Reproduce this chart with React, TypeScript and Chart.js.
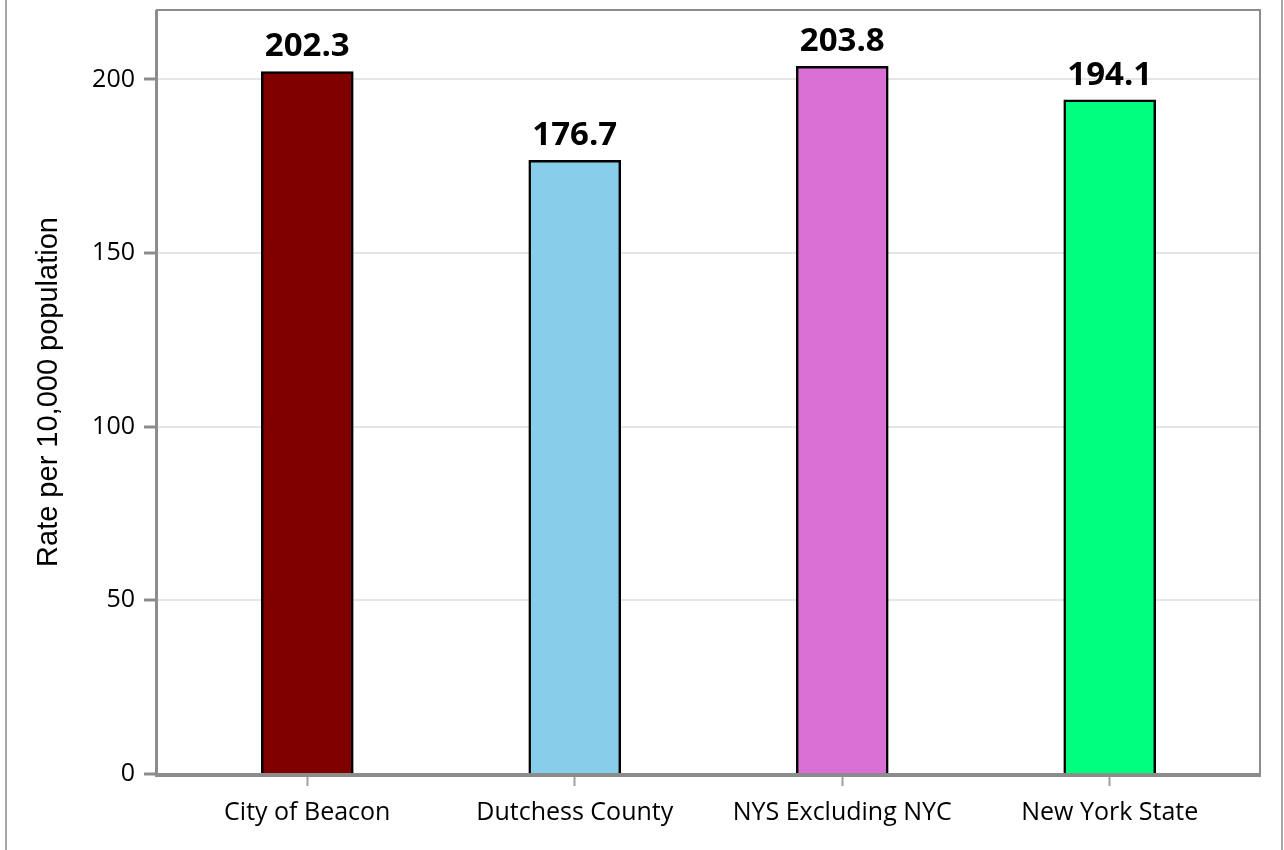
import React, { useEffect, useRef } from "react";
import { Chart, registerables } from "chart.js";

Chart.register(...registerables);

const categories = ["City of Beacon", "Dutchess County", "NYS Excluding NYC", "New York State"];
const rates = [202.3, 176.7, 203.8, 194.1];
const barColors = ["#800000", "#87CEEB", "#DA70D6", "#00FF7F"];
const yTicks = [0, 50, 100, 150, 200];
const yTitle = "Rate per 10,000 population";

const FONT = "'Open Sans', 'Noto Sans', sans-serif";
const TITLE_FONT = "'Liberation Sans', Arial, sans-serif";
const FRAME = "#8c8c8c";

const framePlugin = {
  id: "framePlugin",
  afterDatasetsDraw(chart: any) {
    const { ctx } = chart;
    ctx.save();
    const meta = chart.getDatasetMeta(0);
    ctx.fillStyle = "#000";
    ctx.font = `bold 33px ${FONT}`;
    ctx.textAlign = "center";
    ctx.textBaseline = "alphabetic";
    meta.data.forEach((el: any, i: number) => {
      ctx.fillText(rates[i].toFixed(1), el.x, el.y - 15);
    });
    ctx.restore();
  },
  afterDraw(chart: any) {
    const { ctx, chartArea, width, height } = chart;
    const { left, right, top, bottom } = chartArea;
    ctx.save();
    ctx.strokeStyle = FRAME;
    ctx.lineWidth = 2;
    ctx.beginPath();
    ctx.moveTo(left, bottom);
    ctx.lineTo(left, top);
    ctx.lineTo(right, top);
    ctx.lineTo(right, bottom);
    ctx.stroke();
    ctx.lineWidth = 3;
    ctx.beginPath();
    ctx.moveTo(left - 0.5, top);
    ctx.lineTo(left - 0.5, bottom);
    ctx.stroke();
    ctx.lineWidth = 4;
    ctx.beginPath();
    ctx.moveTo(left - 2, bottom + 1);
    ctx.lineTo(right + 1, bottom + 1);
    ctx.stroke();
    // outer frame
    ctx.strokeStyle = "#a6a6a6";
    ctx.lineWidth = 2;
    ctx.beginPath();
    ctx.moveTo(6, 0);
    ctx.lineTo(6, height);
    ctx.moveTo(width - 2, 0);
    ctx.lineTo(width - 2, height);
    ctx.stroke();
    ctx.restore();
  },
};

export default function App() {
  const ref = useRef<HTMLCanvasElement | null>(null);
  useEffect(() => {
    if (!ref.current) return;
    const chart = new Chart(ref.current, {
      type: "bar",
      data: {
        datasets: [
          {
            data: rates.map((v, i) => ({ x: i, y: v })),
            backgroundColor: barColors,
            borderColor: "#000",
            borderWidth: 2.5,
            barThickness: 92,
          },
        ],
      },
      options: {
        responsive: false,
        animation: false,
        devicePixelRatio: 1,
        layout: { padding: { left: 0, top: 10, right: 24, bottom: 0 } },
        plugins: { legend: { display: false }, tooltip: { enabled: false } },
        scales: {
          x: {
            type: "linear",
            offset: false,
            min: -0.5618,
            max: 3.5618,
            afterBuildTicks: (axis: any) => {
              axis.ticks = categories.map((_, i) => ({ value: i }));
            },
            afterFit: (axis: any) => {
              axis.height = 76;
              axis.paddingLeft = 0;
              axis.paddingRight = 0;
            },
            border: { display: false },
            grid: {
              offset: false,
              drawOnChartArea: false,
              drawTicks: true,
              tickLength: 12,
              tickColor: "#a0a0a0",
              tickWidth: 2,
            },
            ticks: {
              autoSkip: false,
              maxRotation: 0,
              padding: 12,
              color: "#000",
              font: { family: FONT, size: 25 },
              callback: (v: any) => categories[v as number] ?? "",
            },
          },
          y: {
            min: 0,
            max: 220,
            afterBuildTicks: (axis: any) => {
              axis.ticks = yTicks.map((v) => ({ value: v }));
            },
            afterFit: (axis: any) => {
              axis.width = 157;
              axis.paddingTop = 0;
              axis.paddingBottom = 0;
            },
            border: { display: false },
            grid: {
              color: "#e6e6e6",
              lineWidth: 2,
              tickLength: 13,
              tickColor: FRAME,
              tickWidth: 3,
            },
            ticks: {
              padding: 9,
              color: "#000",
              font: { family: FONT, size: 25 },
            },
            title: {
              display: true,
              text: yTitle,
              color: "#000",
              font: { family: TITLE_FONT, size: 29 },
              padding: { top: 32, bottom: 0 },
            },
          },
        },
      },
      plugins: [framePlugin],
    });
    return () => chart.destroy();
  }, []);
  return (
    <canvas
      ref={ref}
      width={1284}
      height={850}
      style={{ position: "fixed", left: 0, top: 0, width: 1284, height: 850 }}
    />
  );
}
